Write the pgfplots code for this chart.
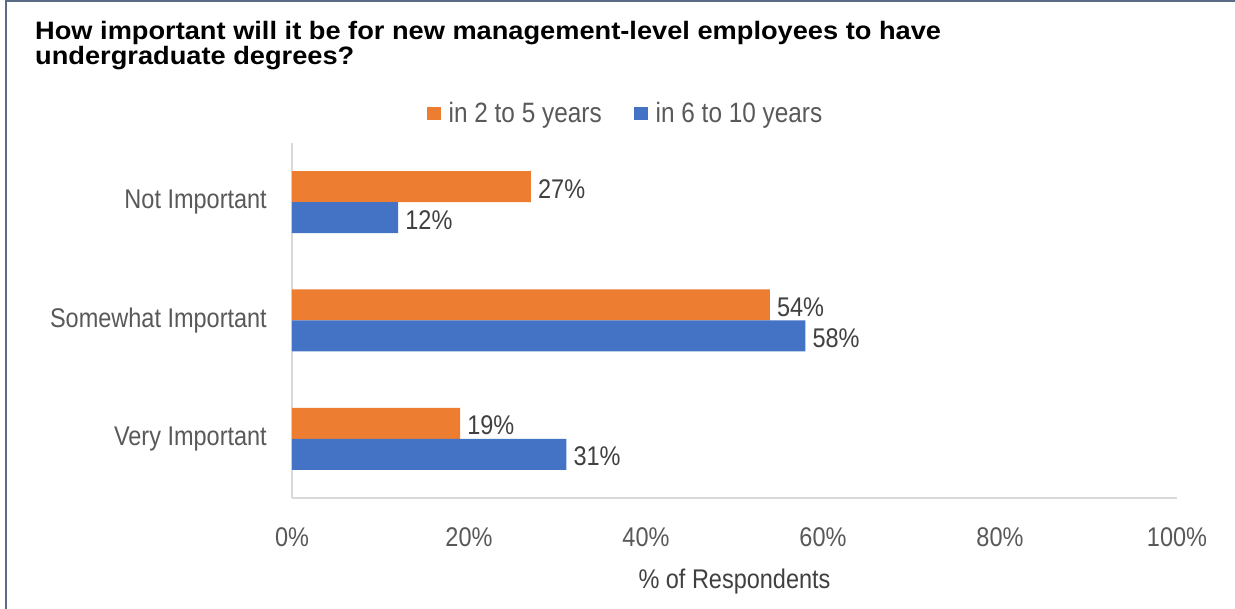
\documentclass[border=0pt]{standalone}
\usepackage{pgfplots}
\pgfplotsset{compat=1.18}
\usepackage{fontspec}
\setmainfont{Liberation Sans}
\newfontfamily\narrowfont[FakeStretch=0.87]{Liberation Sans}
\newfontfamily\titlefont[FakeStretch=1.08]{Liberation Sans}
\definecolor{orng}{HTML}{ED7D31}
\definecolor{blu}{HTML}{4472C4}
\definecolor{ticktxt}{HTML}{595959}
\definecolor{lbltxt}{HTML}{404040}
\definecolor{axln}{HTML}{D9D9D9}
\definecolor{frm}{HTML}{5B6B87}
\newcommand{\lblfont}{\narrowfont\fontsize{27}{31}\selectfont}
\begin{document}
\begin{tikzpicture}[x=1pt,y=1pt]
\useasboundingbox (0,0) rectangle (1235,609);
\fill[white] (0,0) rectangle (1235,609);
\node[anchor=base west, inner sep=0pt, font=\titlefont\bfseries\fontsize{25.2}{26}\selectfont] at (35,569)
  {How important will it be for new management-level employees to have};
\node[anchor=base west, inner sep=0pt, font=\titlefont\bfseries\fontsize{25.2}{26}\selectfont] at (35,544)
  {undergraduate degrees?};
\begin{axis}[
  at={(292pt,111pt)}, anchor=south west,
  scale only axis, width=885pt, height=355pt,
  xmin=0, xmax=100, ymin=-0.5, ymax=2.5,
  xbar, bar width=31pt,
  axis lines*=left,
  axis line style={color=axln, line width=1.5pt},
  major tick length=0pt,
  xtick={0,20,40,60,80,100},
  xticklabel={\pgfmathprintnumber{\tick}\%},
  /pgf/number format/assume math mode=true,
  xticklabel style={anchor=north, inner sep=0pt, yshift=-29pt, font=\lblfont, text=ticktxt},
  ytick={0,1,2},
  yticklabels={Very Important, Somewhat Important, Not Important},
  yticklabel style={anchor=east, inner sep=0pt, xshift=-25pt, font=\lblfont, text=ticktxt},
  xlabel={\% of Respondents},
  xlabel style={at={(axis description cs:0.5,0)}, anchor=base, inner sep=0pt, yshift=-91pt, font=\lblfont, text=lbltxt},
  nodes near coords={\pgfmathprintnumber{\pgfplotspointmeta}\%},
  nodes near coords align=horizontal,
  point meta=explicit,
  every node near coord/.append style={anchor=west, inner sep=0pt, xshift=7pt, yshift=-2pt, font=\lblfont, text=lbltxt},
  legend columns=2,
  legend style={at={(0.3757,1.083)}, anchor=center, draw=none, fill=none, inner sep=0pt,
    font=\narrowfont\fontsize{28}{31}\selectfont, text=ticktxt,
    nodes={inner sep=0pt, anchor=west},
    /tikz/every odd column/.append style={column sep=8pt},
    /tikz/every even column/.append style={column sep=32pt}},
  legend image code/.code={\fill[#1] (0pt,-6.5pt) rectangle (14pt,6.5pt);},
  legend cell align=left,
]
\addplot[fill=orng, draw=none, bar shift=15.5pt] coordinates {(19,0) [19] (54,1) [54] (27,2) [27]};
\addplot[fill=blu, draw=none, bar shift=-15.5pt] coordinates {(31,0) [31] (58,1) [58] (12,2) [12]};
\legend{in 2 to 5 years, in 6 to 10 years}
\end{axis}
\draw[frm, line width=2pt] (5.5,0) -- (5.5,608) -- (1235,608);
\end{tikzpicture}
\end{document}
